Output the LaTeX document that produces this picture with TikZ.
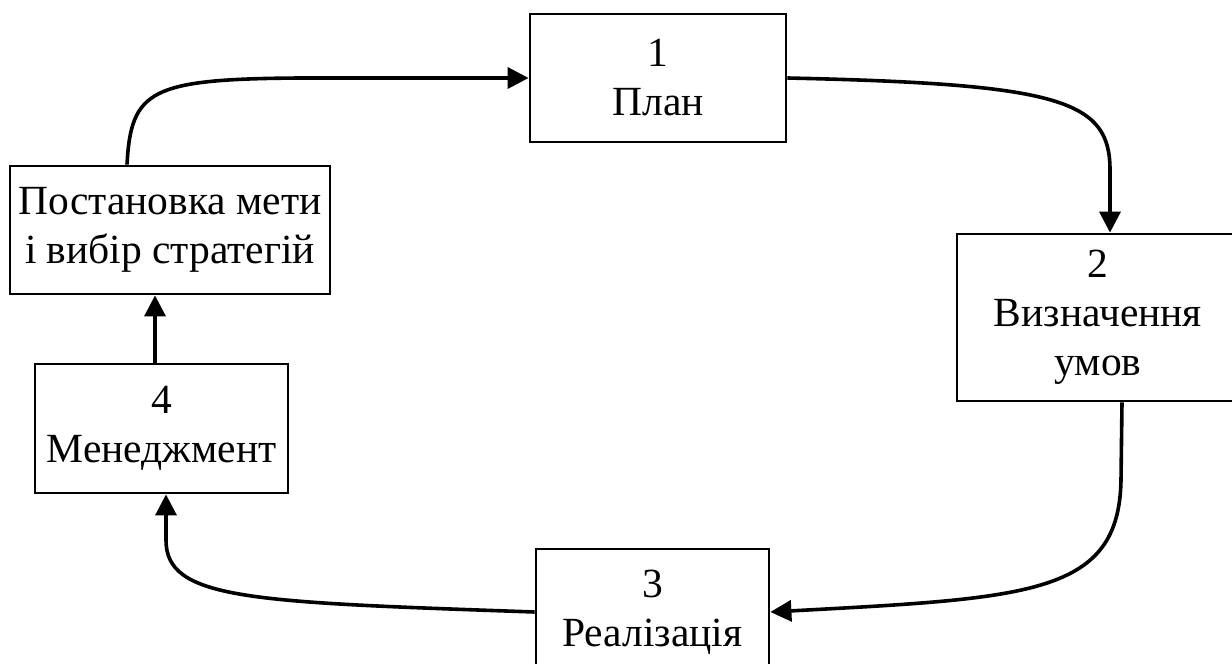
\documentclass[tikz,border=0pt]{standalone}
\usepackage{fontspec}
\setmainfont{Liberation Serif}
\usetikzlibrary{arrows.meta}

\tikzset{
  stage/.style={draw, line width=2.8pt, align=center, inner sep=0pt,
    font=\fontsize{41.5}{49}\selectfont},
  flow/.style={line width=3.6pt, -{Triangle[length=21pt,width=21pt]}},
}

\begin{document}
\begin{tikzpicture}[x=1pt, y=-1pt]
  \useasboundingbox (0,0) rectangle (1232,664);
  \clip (0,0) rectangle (1232,664);

  % stages of the cycle
  \node[stage, minimum width=256pt, minimum height=128pt] (plan) at (658,78) {1\\План};
  \node[stage, minimum width=320pt, minimum height=128pt] (goal) at (170,230) {Постановка мети\\і вибір стратегій};
  \node[stage, minimum width=282pt, minimum height=167pt] (cond) at (1098,317.5) {2\\Визначення\\умов};
  \node[stage, minimum width=233pt, minimum height=126pt] (real) at (652.5,612) {3\\Реалізація};
  \node[stage, minimum width=253pt, minimum height=129pt] (mgmt) at (161.5,428.5) {4\\Менеджмент};

  % connectors
  \draw[flow] ([xshift=-43pt]goal.north) .. controls (131,90) and (150,79) .. (300,78) -- (plan.west);
  \draw[flow] (plan.east) .. controls (1060,84) and (1110,100) .. (1110,170) -- ([xshift=12pt]cond.north);
  \draw[flow] ([xshift=24pt]cond.south) -- (1121,480) .. controls (1119,595) and (1030,598) .. (real.east);
  \draw[flow] (real.west) .. controls (250,602) and (166,600) .. (166,540) -- ([xshift=4.5pt]mgmt.south);
  \draw[flow] ([xshift=-6.5pt]mgmt.north) -- ([xshift=-15pt]goal.south);
\end{tikzpicture}
\end{document}
